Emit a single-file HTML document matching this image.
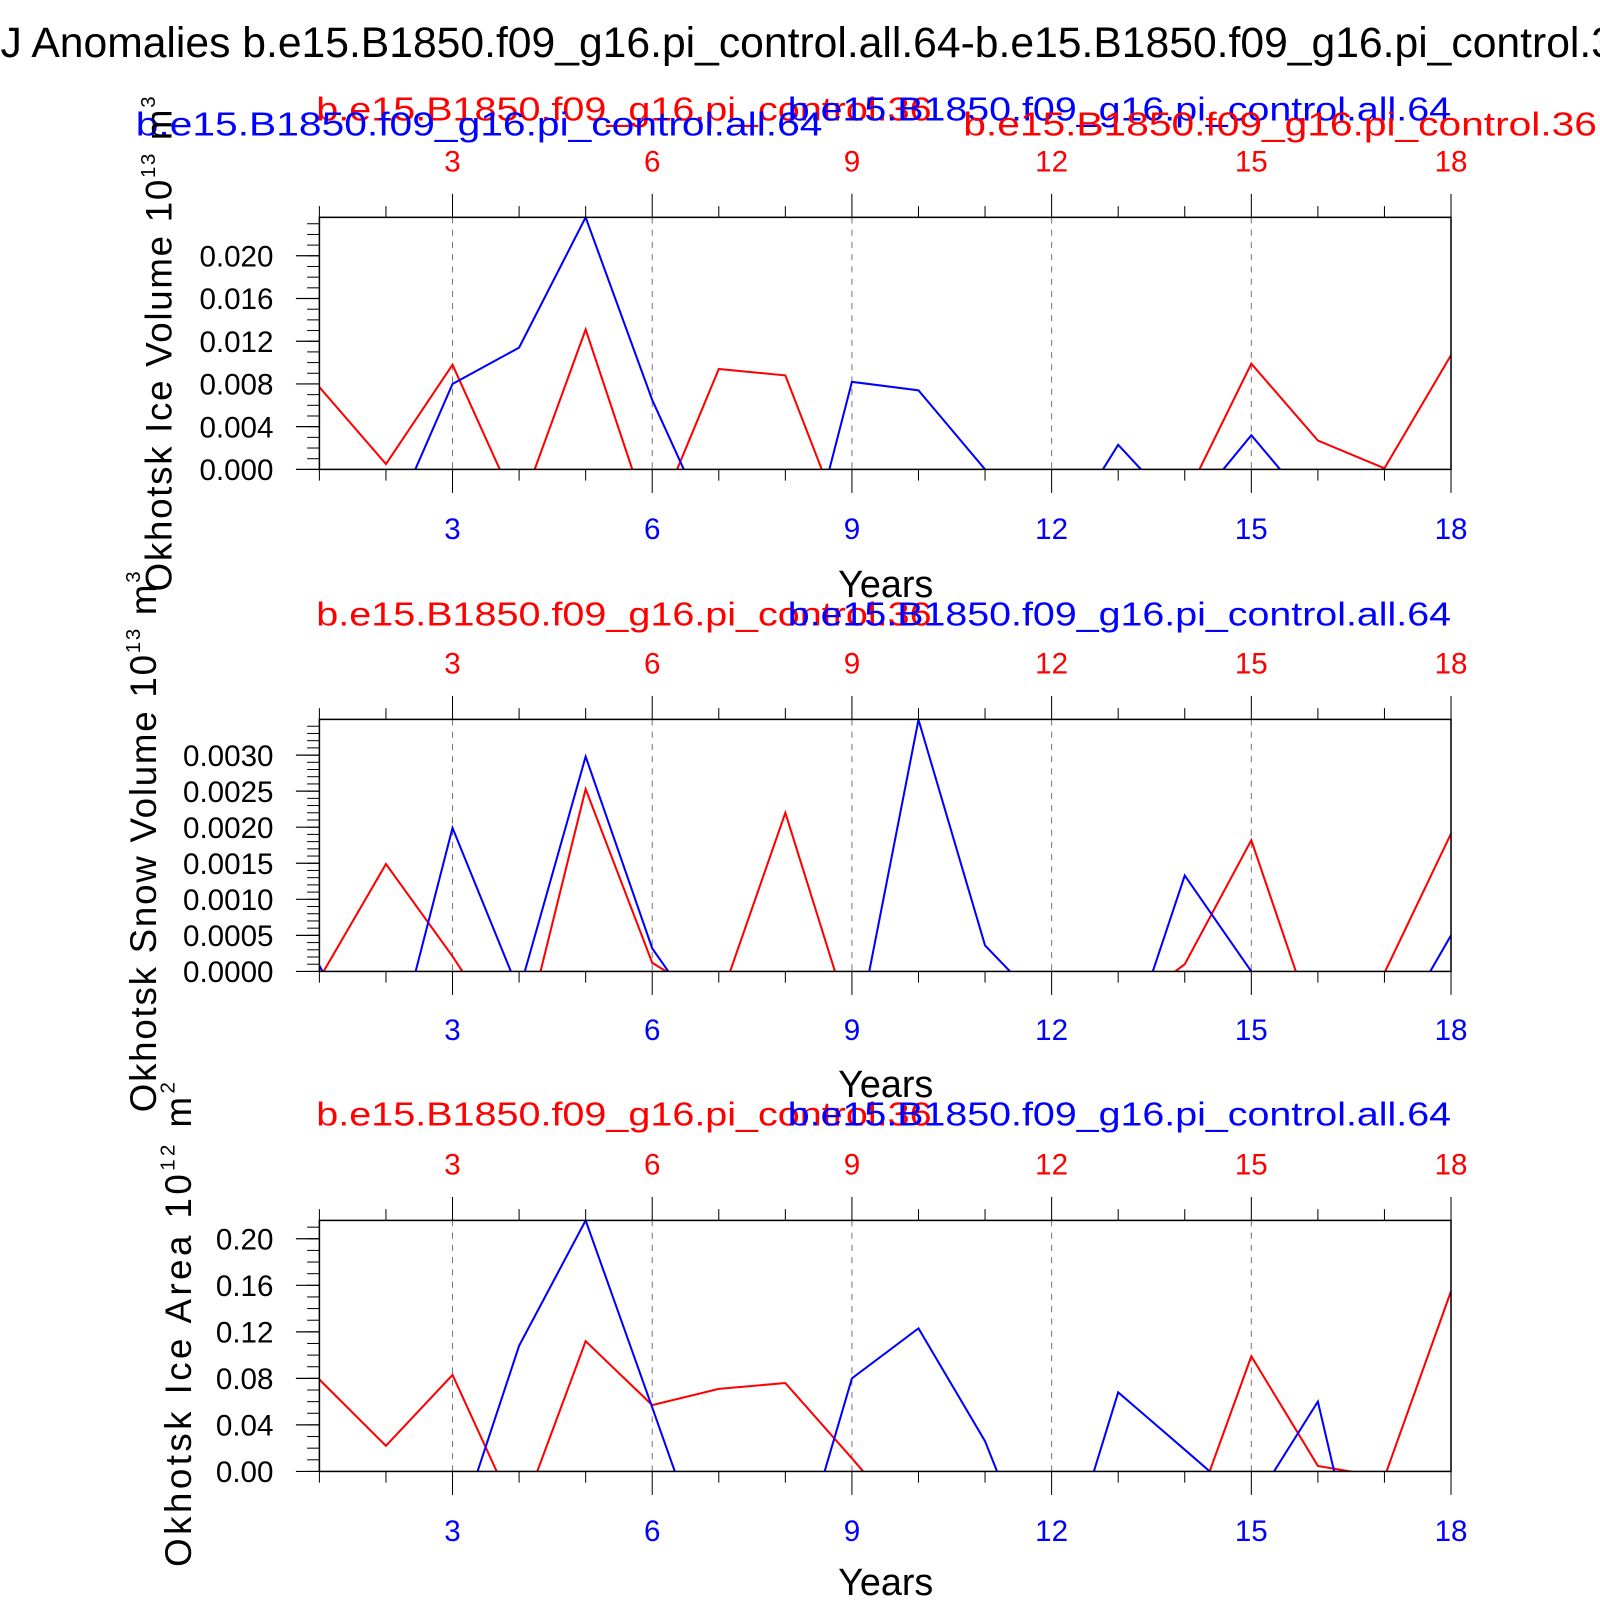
<!DOCTYPE html>
<html><head><meta charset="utf-8"><style>
html,body{margin:0;padding:0;background:#fff;overflow:hidden;}
svg{display:block;font-family:"Liberation Sans",sans-serif;}
</style></head><body>
<svg id="chart" width="1600" height="1600" viewBox="0 0 1568 1568" xmlns="http://www.w3.org/2000/svg">
<rect width="1568" height="1568" fill="#fff"/>
<text x="773" y="56" font-size="41.8" text-anchor="middle" fill="#000">NDJ Anomalies b.e15.B1850.f09_g16.pi_control.all.64-b.e15.B1850.f09_g16.pi_control.36</text>
<g id="panels"></g>
</svg>
<script>
// ---- data (years 1..18) ----
const years = [1,2,3,4,5,6,7,8,9,10,11,12,13,14,15,16,17,18];
const xTickLabels = ["3","6","9","12","15","18"];
const xTickValues = [3,6,9,12,15,18];
// Panel 1: Ice Volume
const iceVolRed  = [0.0077,0.0005,0.0098,-0.004,0.0131,-0.0056,0.0094,0.0088,-0.0073,-0.006,-0.008,-0.005,-0.004,-0.0028,0.0099,0.0027,0.0001,0.0107];
const iceVolBlue = [-0.005,-0.0063,0.0080,0.0114,0.0236,0.0065,-0.0072,-0.016,0.0082,0.0074,0.0,-0.0077,0.0023,-0.0044,0.0032,-0.0042,-0.005,-0.006];
const iceVolTicks = [0,0.004,0.008,0.012,0.016,0.020];
const iceVolTickLabels = ["0.000","0.004","0.008","0.012","0.016","0.020"];
// Panel 2: Snow Volume
const snowRed  = [-0.0001,0.00149,0.00021,-0.0012,0.00253,0.00012,-0.00045,0.0022,-0.00075,-0.001,-0.001,-0.001,-0.0006,0.0001,0.00182,-0.0009,-0.00002,0.00191];
const snowBlue = [0.00008,-0.0016,0.00199,-0.00028,0.00298,0.00032,-0.001,-0.001,-0.00123,0.00349,0.00036,-0.0006,-0.00144,0.00133,0.0,-0.001,-0.0011,0.0005];
const snowTicks = [0,0.0005,0.001,0.0015,0.002,0.0025,0.003];
const snowTickLabels = ["0.0000","0.0005","0.0010","0.0015","0.0020","0.0025","0.0030"];
// Panel 3: Ice Area
const areaRed  = [0.079,0.022,0.083,-0.042,0.112,0.057,0.071,0.076,0.0113,-0.055,-0.06,-0.06,-0.06,-0.059,0.099,0.0047,-0.005,0.155];
const areaBlue = [-0.05,-0.08,-0.065,0.108,0.2158,0.055,-0.107,-0.115,0.080,0.123,0.026,-0.118,0.068,0.0187,-0.031,0.060,-0.185,-0.1];
const areaTicks = [0,0.04,0.08,0.12,0.16,0.20];
const areaTickLabels = ["0.00","0.04","0.08","0.12","0.16","0.20"];

const NS="http://www.w3.org/2000/svg";
const root=document.getElementById('panels');
function mk(tag,attrs,parent){const e=document.createElementNS(NS,tag);for(const k in attrs)e.setAttribute(k,attrs[k]);(parent||root).appendChild(e);return e;}

const X0=313,X1=1422;
function xs(v){return X0+(v-1)*(X1-X0)/17;}

const panels=[
 {key:'ice-volume',top:213,bot:460,ymax:0.0236,minor:0.001,red:iceVolRed,blue:iceVolBlue,ticks:iceVolTicks,labels:iceVolTickLabels,
  titleY:118,topLabY:168,botLabY:528,yearsY:585,ytitle:['Okhotsk Ice Volume 10','13',' m','3'],ytX:168,ytC:337,ytLen:485,extra:true},
 {key:'snow-volume',top:705,bot:952,ymax:0.003495,minor:0.0001,red:snowRed,blue:snowBlue,ticks:snowTicks,labels:snowTickLabels,
  titleY:613,topLabY:660,botLabY:1019,yearsY:1075,ytitle:['Okhotsk Snow Volume 10','13',' m','3'],ytX:153,ytC:825,ytLen:530},
 {key:'ice-area',top:1196,bot:1442,ymax:0.2158,minor:0.01,red:areaRed,blue:areaBlue,ticks:areaTicks,labels:areaTickLabels,
  titleY:1103,topLabY:1151,botLabY:1510,yearsY:1563,ytitle:['Okhotsk Ice Area 10','12',' m','2'],ytX:187,ytC:1298,ytLen:475}
];

panels.forEach((p,i)=>{
  const g=mk('g',{});
  
  
  const ys=v=>p.bot-(v/p.ymax)*(p.bot-p.top);
  const cp=mk('clipPath',{id:'clip'+i},g);
  mk('rect',{x:X0,y:p.top-1,width:X1-X0,height:p.bot-p.top+1},cp);
  xTickValues.slice(0,5).forEach(v=>{
    const l=mk('line',{x1:xs(v),x2:xs(v),y1:p.top,y2:p.bot,stroke:'#777','stroke-width':1,'stroke-dasharray':'6,6'},g);
    
    
  });
  years.forEach(v=>{
    const major=v%3===0;
    mk('line',{x1:xs(v),x2:xs(v),y1:p.top,y2:p.top-(major?23:11),stroke:'#000','stroke-width':1},g);
    mk('line',{x1:xs(v),x2:xs(v),y1:p.bot,y2:p.bot+(major?23:11),stroke:'#000','stroke-width':1},g);
  });
  for(let v=0;v<=p.ymax+1e-12;v+=p.minor){
    mk('line',{x1:X0,x2:X0-12,y1:ys(v),y2:ys(v),stroke:'#000','stroke-width':1},g);
  }
  p.ticks.forEach((v,k)=>{
    mk('line',{x1:X0,x2:X0-23,y1:ys(v),y2:ys(v),stroke:'#000','stroke-width':1.2},g);
    const t=mk('text',{x:268,y:ys(v)+10.5,'font-size':29,'text-anchor':'end',fill:'#000'},g);
    
    
    t.textContent=p.labels[k];
  });
  xTickValues.forEach((v,k)=>{
    const t1=mk('text',{x:xs(v),y:p.topLabY,'font-size':29,'text-anchor':'middle',fill:'#ff0000'},g);
    
    
    t1.textContent=xTickLabels[k];
    const t2=mk('text',{x:xs(v),y:p.botLabY,'font-size':29,'text-anchor':'middle',fill:'#0000ff'},g);
    
    
    t2.textContent=xTickLabels[k];
  });
  [['red',p.red,'#ff0000'],['blue',p.blue,'#0000ff']].forEach(([nm,arr,col])=>{
    const d=arr.map((v,k)=>(k?'L':'M')+xs(years[k]).toFixed(2)+','+ys(v).toFixed(2)).join(' ');
    const path=mk('path',{d:d,fill:'none',stroke:col,'stroke-width':2,'clip-path':'url(#clip'+i+')'},g);
    
    
  });
  const fr=mk('rect',{x:X0,y:p.top,width:X1-X0,height:p.bot-p.top,fill:'none',stroke:'#000','stroke-width':1.5},g);
  
  
  const tr=mk('text',{x:310,y:p.titleY,'font-size':33,fill:'#ff0000',textLength:603,lengthAdjust:'spacingAndGlyphs'},g);
  
  
  tr.textContent='b.e15.B1850.f09_g16.pi_control.36';
  const tb=mk('text',{x:772,y:p.titleY,'font-size':33,fill:'#0000ff',textLength:650,lengthAdjust:'spacingAndGlyphs'},g);
  
  
  tb.textContent='b.e15.B1850.f09_g16.pi_control.all.64';
  if(p.extra){
    const tb2=mk('text',{x:133,y:133,'font-size':33,fill:'#0000ff',textLength:673,lengthAdjust:'spacingAndGlyphs'},g);
    
    
    tb2.textContent='b.e15.B1850.f09_g16.pi_control.all.64';
    const tr2=mk('text',{x:944,y:133,'font-size':33,fill:'#ff0000',textLength:621,lengthAdjust:'spacingAndGlyphs'},g);
    
    
    tr2.textContent='b.e15.B1850.f09_g16.pi_control.36';
  }
  const yr=mk('text',{x:868,y:p.yearsY,'font-size':37,'text-anchor':'middle',fill:'#000'},g);
  
  
  yr.textContent='Years';
  const yt=mk('text',{x:0,y:0,'font-size':36,fill:'#000','text-anchor':'middle',transform:'translate('+p.ytX+','+p.ytC+') rotate(-90)',textLength:p.ytLen,lengthAdjust:'spacing'},g);
  
  
  const s1=mk('tspan',{},yt); s1.textContent=p.ytitle[0];
  const s2=mk('tspan',{'font-size':20,dy:-16},yt); s2.textContent=p.ytitle[1];
  const s3=mk('tspan',{dy:16},yt); s3.textContent=p.ytitle[2];
  const s4=mk('tspan',{'font-size':20,dy:-16},yt); s4.textContent=p.ytitle[3];
});
</script>
</body></html>
